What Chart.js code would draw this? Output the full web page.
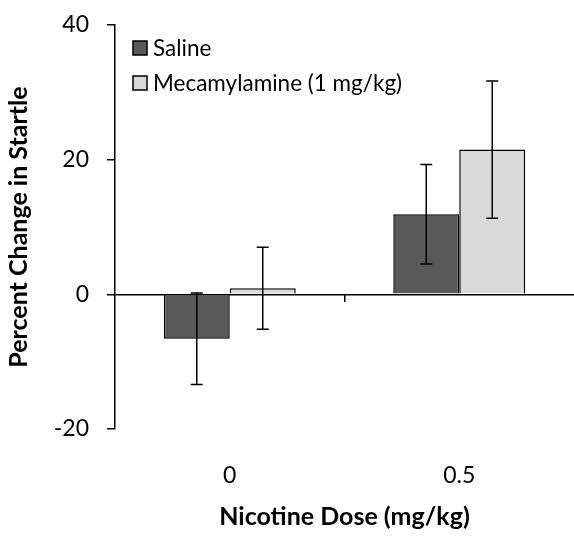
<!DOCTYPE html>
<html>
<head>
<meta charset="utf-8">
<script src="https://cdn.jsdelivr.net/npm/chart.js@4"></script>
<style>
  body { margin: 0; background: #fff; }
  #wrap { width: 574px; height: 536px; }
</style>
</head>
<body>
<div id="wrap"><canvas id="myChart"></canvas></div>
<script>
  // data
  const doses = ['0', '0.5'];
  const saline = [-6.6, 11.9];
  const salineErr = [6.8, 7.4];
  const mecamylamine = [0.9, 21.5];
  const mecamylamineErr = [6.1, 10.2];
  const yTicks = [-20, 0, 20, 40];

  const font = 'Lato, "Liberation Sans", sans-serif';

  // error bars drawn from the scales
  const errorBars = {
    id: 'errorBars',
    afterDatasetsDraw(chart) {
      const c = chart.ctx;
      const y = chart.scales.y;
      const errs = [salineErr, mecamylamineErr];
      c.save();
      c.strokeStyle = '#000';
      c.lineWidth = 1.5;
      chart.data.datasets.forEach((ds, i) => {
        chart.getDatasetMeta(i).data.forEach((bar, j) => {
          const v = ds.data[j];
          const top = y.getPixelForValue(v + errs[i][j]);
          const bot = y.getPixelForValue(v - errs[i][j]);
          c.beginPath();
          c.moveTo(bar.x, top); c.lineTo(bar.x, bot);
          c.moveTo(bar.x - 6, top); c.lineTo(bar.x + 6, top);
          c.moveTo(bar.x - 6, bot); c.lineTo(bar.x + 6, bot);
          c.stroke();
        });
      });
      c.restore();
    }
  };

  // legend inside the plot, top left
  const insideLegend = {
    id: 'insideLegend',
    afterDraw(chart) {
      const c = chart.ctx;
      const left = chart.chartArea.left + 18;
      let cy = chart.chartArea.top + 23;
      c.save();
      c.font = '22.5px ' + font;
      c.textBaseline = 'middle';
      chart.data.datasets.forEach(ds => {
        c.fillStyle = ds.backgroundColor;
        c.fillRect(left, cy - 7, 14, 14);
        c.strokeStyle = '#000';
        c.lineWidth = 1.5;
        c.strokeRect(left, cy - 7, 14, 14);
        c.fillStyle = '#000';
        c.fillText(ds.label, left + 20, cy + 1);
        cy += 35;
      });
      c.restore();
    }
  };

  const ctx = document.getElementById('myChart');

  new Chart(ctx, {
    type: 'bar',
    data: {
      labels: doses,
      datasets: [{
        label: 'Saline',
        data: saline,
        backgroundColor: '#595959',
        borderColor: '#000',
        borderWidth: 1.5
      }, {
        label: 'Mecamylamine (1 mg/kg)',
        data: mecamylamine,
        backgroundColor: '#d9d9d9',
        borderColor: '#000',
        borderWidth: 1.5
      }]
    },
    plugins: [errorBars, insideLegend],
    options: {
      responsive: true,
      maintainAspectRatio: false,
      animation: false,
      layout: { padding: { top: 25, right: 0, left: 0, bottom: 0 } },
      datasets: {
        bar: { categoryPercentage: 0.575, barPercentage: 1 }
      },
      plugins: {
        legend: { display: false },
        tooltip: { enabled: false }
      },
      scales: {
        x: {
          offset: true,
          grid: { display: false },
          border: { display: false },
          ticks: {
            color: '#000',
            font: { family: font, size: 23 },
            padding: 25
          },
          title: {
            display: true,
            text: 'Nicotine Dose (mg/kg)',
            color: '#000',
            font: { family: font, size: 25, weight: 'bold' },
            padding: { top: 21 }
          },
          afterFit(scale) { scale.height = 107; }
        },
        x2: {
          type: 'category',
          position: { y: 0 },
          offset: true,
          grid: {
            offset: true,
            drawOnChartArea: false,
            tickLength: 8,
            lineWidth: 1.5,
            color: (c) => c.index === 1 ? '#000' : 'rgba(0,0,0,0)'
          },
          border: { display: false },
          ticks: { display: false }
        },
        y: {
          min: -20,
          max: 40,
          afterBuildTicks(scale) {
            scale.ticks = yTicks.map(v => ({ value: v }));
          },
          grid: {
            drawOnChartArea: true,
            tickLength: 8,
            lineWidth: 1.5,
            color: (c) => c.tick && c.tick.value === 0 ? '#000' : 'rgba(0,0,0,0)',
            tickColor: '#000'
          },
          border: { color: '#000', width: 1.5 },
          ticks: {
            color: '#000',
            font: { family: font, size: 23 },
            padding: 18
          },
          title: {
            display: true,
            text: 'Percent Change in Startle',
            color: '#000',
            font: { family: font, size: 25, weight: 'bold' },
            padding: { top: 4, bottom: 0 }
          },
          afterFit(scale) {
            scale.width = 115;
            scale.paddingTop = 0;
            scale.paddingBottom = 0;
          }
        }
      }
    }
  });
</script>
</body>
</html>
